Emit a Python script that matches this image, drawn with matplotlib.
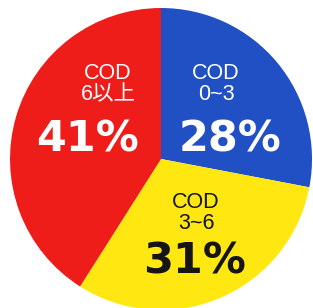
import matplotlib
matplotlib.use("Agg")
import matplotlib.pyplot as plt

labels = ["COD\n0~3", "COD\n3~6", "COD\n6以上"]
values = [28, 31, 41]
pct_labels = ["28%", "31%", "41%"]
colors = ["#2150C4", "#FFE811", "#EE1D1A"]
text_colors = ["#FFFFFF", "#151515", "#FFFFFF"]

# label positions in pixel coordinates from top-left (x, y)
small_pos = [(216, 84), (196, 213), (108, 84)]
big_pos = [(230, 139), (194, 261), (87, 139)]

W, H = 313, 308
fig = plt.figure(figsize=(W / 100, H / 100), dpi=100)
ax = fig.add_axes([0, 0, 1, 1])

ax.pie(values, colors=colors, startangle=90, counterclock=False,
       center=(161, H - 159), radius=151, frame=True,
       wedgeprops=dict(linewidth=0))
ax.set_xlim(0, W)
ax.set_ylim(0, H)
ax.set_aspect("equal")
ax.axis("off")

fam = ["Liberation Sans", "Noto Sans CJK JP", "DejaVu Sans"]
for lab, (x, y), c in zip(labels, small_pos, text_colors):
    ax.text(x, H - y, lab, ha="center", va="center", fontsize=15.5, color=c,
            family=fam, linespacing=1.05)
for lab, (x, y), c in zip(pct_labels, big_pos, text_colors):
    ax.text(x, H - y, lab, ha="center", va="center", fontsize=31, color=c,
            family="DejaVu Sans", fontweight="bold")

fig.savefig("out.png", dpi=100, facecolor="white")
